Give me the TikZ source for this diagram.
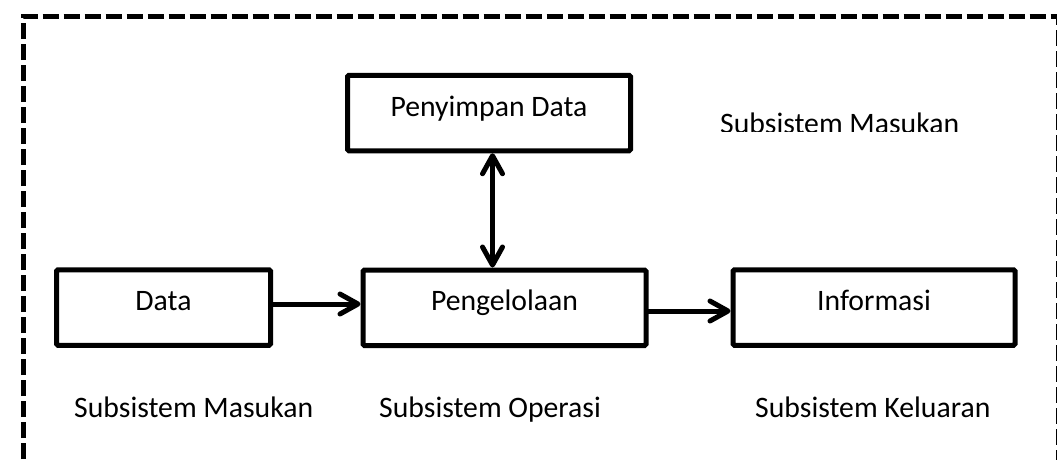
\documentclass[tikz,border=0pt]{standalone}
\usepackage{fontspec}
\setmainfont{Carlito}
\usetikzlibrary{arrows.meta}
\newcommand\diagfont{\fontsize{29.7}{35}\selectfont}
\begin{document}
\begin{tikzpicture}[x=1pt,y=-1pt,
  box/.style={draw=black, line width=5pt, rounded corners=1.5pt,
    minimum width=#1, minimum height=75.5pt, text height=6pt, text depth=0pt,
    inner sep=0pt, font=\diagfont},
  conn/.style={line width=5pt, line cap=round, -{Straight Barb[length=18pt,width=20pt,round]}},
  dconn/.style={line width=5pt, line cap=round, {Straight Barb[length=18pt,width=20pt,round]}-{Straight Barb[length=18pt,width=20pt,round]}},
  frame/.style={line width=5pt, dash pattern=on 16pt off 5pt},
  caption/.style={anchor=base west, font=\diagfont, inner sep=0pt}]
\useasboundingbox (0,0) rectangle (1057,459);
% outer dashed frame
\draw[frame] (23,480) -- (23,16.5) -- (1058.5,16.5) -- (1058.5,480);
% boxes
\node[box=214pt] (data) at (163.5,307.5) {Data};
\node[box=283pt] (peng) at (504.5,307.75) {Pengelolaan};
\node[box=282pt] (info) at (874,307.5) {Informasi};
\node[box=283pt] (store) at (489,113) {Penyimpan Data};
% connectors
\draw[conn] ([yshift=3.5pt]data.east) -- ([yshift=3.75pt]peng.west);
\draw[conn] ([yshift=-3.25pt]peng.east) -- ([yshift=-3.5pt]info.west);
\draw[dconn] ([xshift=3.5pt]store.south) -- ([xshift=3.5pt]store.south |- peng.north);
% captions
\begin{scope}
  \clip (700,100) rectangle (1000,131);
  \node[caption] (captop) at (720,133.5) {Subsistem Masukan};
\end{scope}
\node[caption] (capin) at (74,417) {Subsistem Masukan};
\node[caption] (capop) at (379,417) {Subsistem Operasi};
\node[caption] (capout) at (755,417) {Subsistem Keluaran};
\end{tikzpicture}
\end{document}
